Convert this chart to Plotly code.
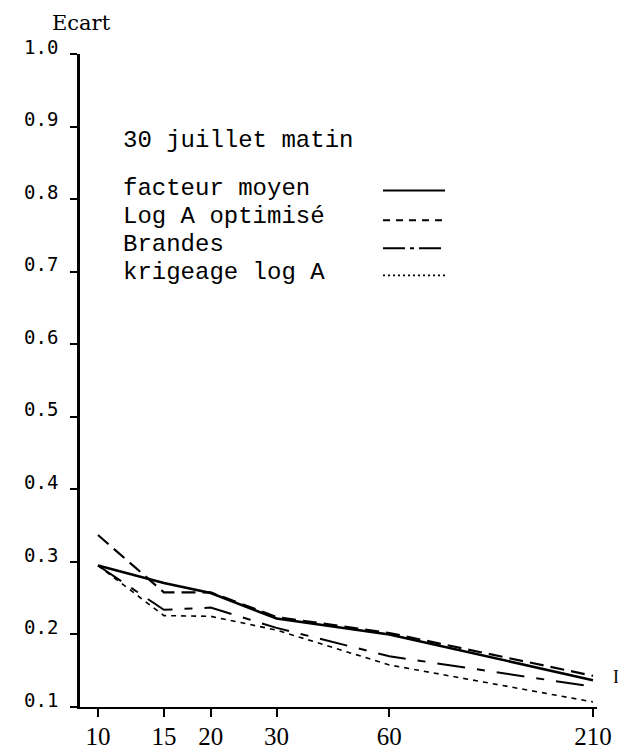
import plotly.graph_objects as go

# ---- data ----
x_vals = [10, 15, 20, 30, 60, 210]
x_labels = ["10", "15", "20", "30", "60", "210"]

facteur_moyen = [0.295, 0.271, 0.257, 0.222, 0.200, 0.137]
log_a_optimise = [0.337, 0.258, 0.258, 0.224, 0.202, 0.143]
brandes = [0.295, 0.234, 0.237, 0.209, 0.170, 0.128]
krigeage_log_a = [0.295, 0.226, 0.225, 0.206, 0.158, 0.107]

y_ticks = [0.1, 0.2, 0.3, 0.4, 0.5, 0.6, 0.7, 0.8, 0.9, 1.0]
y_labels = ["0.1", "0.2", "0.3", "0.4", "0.5", "0.6", "0.7", "0.8", "0.9", "1.0"]

series_names = ["facteur moyen", "Log A optimisé", "Brandes", "krigeage log A"]
title_text = "30 juillet matin"
y_title = "Ecart"

# ---- figure geometry (page body has an 8px margin) ----
OFF = 8
W, H = 626 - OFF, 753 - OFF
L = 80 - OFF
T = 53.5 - OFF
plot_bottom = 707 - OFF
plot_right = 597 - OFF
B = H - plot_bottom
R = W - plot_right
pw, ph = W - L - R, H - T - B


def px(sx):
    return (sx - OFF - L) / pw


def py(sy):
    return (plot_bottom - (sy - OFF)) / ph


styles = [
    dict(width=2.6, dash="solid"),
    dict(width=2.2, dash="14px,7px"),
    dict(width=2.0, dash="28px,12px,8px,12px"),
    dict(width=1.6, dash="5px,5px"),
]
data_series = [facteur_moyen, log_a_optimise, brandes, krigeage_log_a]

fig = go.Figure()
for name, vals, st in zip(series_names, data_series, styles):
    fig.add_trace(go.Scatter(
        x=x_vals, y=vals, mode="lines", name=name,
        line=dict(color="black", width=st["width"], dash=st["dash"]),
        showlegend=False,
    ))

fig.update_layout(
    template="none",
    width=W, height=H,
    margin=dict(l=L, r=R, t=T, b=B, pad=0, autoexpand=False),
    paper_bgcolor="white", plot_bgcolor="white",
    showlegend=False,
    xaxis=dict(
        type="log", range=[0.952, 2.333], automargin=False,
        tickmode="array", tickvals=x_vals, ticktext=x_labels,
        showgrid=False, zeroline=False,
        showline=True, linecolor="black", linewidth=2,
        ticks="outside", ticklen=8, tickwidth=2, tickcolor="black",
        tickfont=dict(family="Liberation Serif", size=25, color="black"),
        ticklabelstandoff=-2,
    ),
    yaxis=dict(
        range=[0.1, 1.0], automargin=False,
        tickmode="array", tickvals=y_ticks, ticktext=y_labels,
        showgrid=False, zeroline=False,
        showline=True, linecolor="black", linewidth=2.5,
        ticks="outside", ticklen=7, tickwidth=2, tickcolor="black",
        tickfont=dict(family="DejaVu Sans Mono", size=19, color="black"),
        ticklabelstandoff=8, ticklabelshift=-7,
    ),
)

annos = []
annos.append(dict(x=px(81), y=py(9), xref="paper", yref="paper",
                  text=y_title, showarrow=False, xanchor="center", yanchor="top",
                  borderpad=0,
                  font=dict(family="DejaVu Serif", size=21, color="black")))
text_rows = [(title_text, 140)] + list(zip(series_names, [188, 216, 244, 272]))
for txt, yc in text_rows:
    annos.append(dict(x=px(121), y=py(yc), xref="paper", yref="paper",
                      text=txt, showarrow=False, xanchor="left", yanchor="middle",
                      font=dict(family="Liberation Mono", size=24, color="black")))
annos.append(dict(x=px(616), y=py(677), xref="paper", yref="paper",
                  text="I", showarrow=False, xanchor="center", yanchor="middle",
                  font=dict(family="Liberation Serif", size=18, color="black")))
fig.update_layout(annotations=annos)

sample_dash = ["solid", "7px,6px", "22px,5px,4px,5px", "2px,3px"]
sample_w = [2.0, 2.0, 2.0, 1.6]
sample_y = [190, 220, 248, 275]
for d, w, yy in zip(sample_dash, sample_w, sample_y):
    fig.add_shape(type="line", xref="paper", yref="paper",
                  x0=px(383), x1=px(445), y0=py(yy), y1=py(yy),
                  line=dict(color="black", width=w, dash=d))

fig.write_html("out.html")
